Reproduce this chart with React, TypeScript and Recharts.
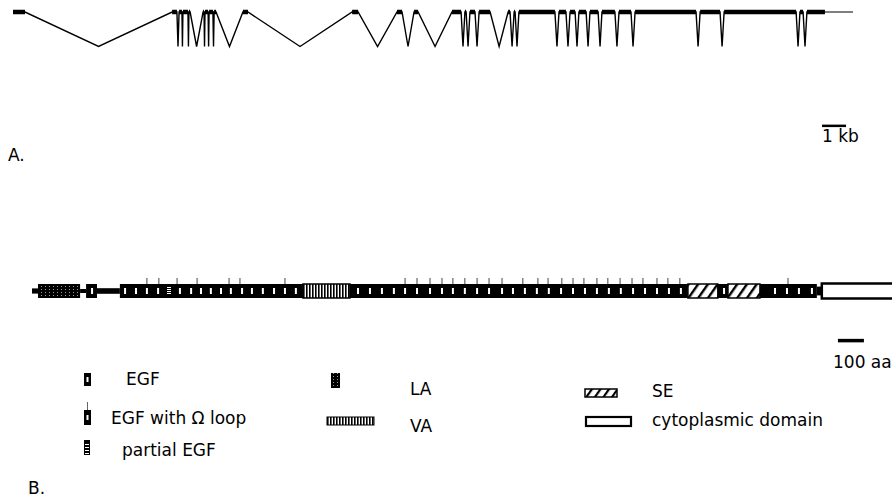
import React from 'react'
import {
  LineChart,
  Line,
  XAxis,
  YAxis,
  ReferenceLine,
  ComposedChart,
  ReferenceArea,
  Scatter,
} from 'recharts'

// A. gene structure, exon positions in kb
const exonStarts = [
  0, 6.63, 6.92, 7.08, 7.33, 7.92, 8.0, 8.17, 8.38, 9.58, 14.13, 16.0, 16.71, 18.29, 18.83, 19.04,
  19.42, 20.63, 20.88, 21.08, 22.75, 23.21, 23.58, 24.04, 24.54, 25.25, 25.92, 28.63, 29.63, 32.79, 33.08,
]
const exonEnds = [
  0.5, 6.83, 7.04, 7.29, 7.38, 7.96, 8.13, 8.33, 8.46, 9.79, 14.38, 16.21, 16.88, 18.67, 18.88, 19.25,
  19.88, 20.71, 20.92, 22.58, 23.04, 23.42, 23.88, 24.38, 25.08, 25.75, 28.46, 29.46, 32.63, 32.92, 33.83,
]
const utr3 = [33.83, 35.0]
const kbBar = [33.71, 34.71]

// B. protein domains, in aa
const nTerm = [0, 23]
const laRepeats = [[23, 185]]
const linkers = [[185, 208], [250, 338]]
const egfBlocks = [[208, 250], [338, 1042], [1223, 2523], [2638, 2677], [2800, 3019]]
const vaBlocks = [[1042, 1223]]
const seBlocks = [[2523, 2638], [2677, 2800]]
const tmSegment = [3019, 3038]
const cytoDomain = [3038, 3400]
const egfMarks = [
  231, 358, 400, 442, 485, 569, 612, 650, 688, 727, 765, 808, 846, 888, 931, 973, 1015,
  1254, 1300, 1346, 1392, 1435, 1481, 1531, 1577, 1619, 1665, 1712, 1758, 1808, 1850, 1896, 1942,
  1988, 2035, 2081, 2127, 2173, 2219, 2265, 2312, 2358, 2404, 2450, 2496, 2662, 2858, 2904, 2950, 3000,
]
const partialEgf = [527]
const omegaLoops = [
  442, 488, 558, 635, 758, 800, 973, 1435, 1481, 1531, 1577, 1619, 1665, 1712, 1758, 1808, 1888,
  1946, 1985, 2038, 2081, 2123, 2173, 2215, 2262, 2308, 2350, 2404, 2446, 2492, 2908,
]
const aaBar = [3100, 3200]

const FONT = '"DejaVu Sans", sans-serif'
const BAR = 0.35

const geneRows = exonStarts.flatMap((s, i) => {
  const rows: any[] = [
    { x: s, y: 0, e: 0 },
    { x: exonEnds[i], y: 0, e: 0 },
  ]
  if (i < exonStarts.length - 1) rows.push({ x: (exonEnds[i] + exonStarts[i + 1]) / 2, y: -1, e: null })
  return rows
})

const EgfMark = (props: any) => (
  <rect x={props.cx - 1} y={props.cy - 3} width={2} height={6} fill="#fff" />
)

const PartialMark = (props: any) => (
  <g fill="#fff">
    {[-4, -2, 0, 2].map((d) => (
      <rect key={d} x={props.cx - 2} y={props.cy + d} width={4} height={1} />
    ))}
  </g>
)

const OmegaTick = (props: any) => (
  <line x1={props.cx} x2={props.cx} y1={props.cy - 6} y2={props.cy} stroke="#444" strokeWidth={1} />
)

function Legend() {
  const txt = { fontFamily: FONT, fontSize: 17, fill: '#000' }
  return (
    <svg width={892} height={497} style={{ position: 'absolute', left: 0, top: 0, pointerEvents: 'none' }}>
      <defs>
        <pattern id="lgLa" width={4} height={3} patternUnits="userSpaceOnUse">
          <rect width={4} height={3} fill="#000" />
          <rect x={1} y={1} width={1} height={1} fill="#999" />
        </pattern>
        <pattern id="lgVa" width={3} height={4} patternUnits="userSpaceOnUse">
          <rect width={3} height={4} fill="#fff" />
          <rect width={1.6} height={4} fill="#000" />
        </pattern>
        <pattern id="lgSe" width={7} height={7} patternUnits="userSpaceOnUse" patternTransform="rotate(35)">
          <rect width={7} height={7} fill="#fff" />
          <rect width={2.2} height={7} fill="#000" />
        </pattern>
      </defs>
      <text x={8} y={161} {...txt}>A.</text>
      <text x={822} y={142} {...txt}>1 kb</text>
      <text x={833} y={368} {...txt}>100 aa</text>
      <text x={28} y={494} {...txt}>B.</text>

      <rect x={84} y={373} width={7} height={13} fill="#000" />
      <rect x={86.5} y={377} width={2} height={5} fill="#fff" />
      <text x={126} y={385} {...txt}>EGF</text>

      <line x1={87.5} x2={87.5} y1={402} y2={410} stroke="#666" strokeWidth={1} />
      <rect x={84} y={410} width={7} height={15} fill="#000" />
      <rect x={86.5} y={415} width={2} height={5} fill="#fff" />
      <text x={111} y={424} {...txt}>EGF with Ω loop</text>

      <rect x={84} y={440} width={6} height={15} fill="#000" />
      {[444, 447, 450, 453].map((y) => (
        <rect key={y} x={85} y={y} width={4} height={1} fill="#fff" />
      ))}
      <text x={122} y={456} {...txt}>partial EGF</text>

      <rect x={331} y={373} width={9} height={15} fill="url(#lgLa)" />
      <text x={410} y={395} {...txt}>LA</text>

      <rect x={327} y={417} width={47} height={8} fill="url(#lgVa)" stroke="#000" strokeWidth={1} />
      <text x={410} y={432} {...txt}>VA</text>

      <rect x={585} y={389} width={32} height={8} fill="url(#lgSe)" stroke="#000" strokeWidth={1.5} />
      <text x={652} y={397} {...txt}>SE</text>

      <rect x={586} y={417} width={45} height={9} fill="#fff" stroke="#000" strokeWidth={2.2} />
      <text x={652} y={426} {...txt}>cytoplasmic domain</text>
    </svg>
  )
}

export default function App() {
  return (
    <div style={{ position: 'absolute', left: 0, top: 0, width: 892, height: 497, background: '#fff' }}>
      <div style={{ position: 'absolute', left: 0, top: 0 }}>
        <LineChart width={892} height={160} data={geneRows} margin={{ top: 5.1, right: 15, bottom: 10, left: 13 }}>
          <XAxis type="number" dataKey="x" domain={[0, 36]} hide />
          <YAxis type="number" domain={[-4, 0.2]} hide />
          <Line
            type="linear"
            dataKey="y"
            stroke="#000"
            strokeWidth={1.4}
            dot={false}
            activeDot={false}
            isAnimationActive={false}
          />
          <Line
            type="linear"
            dataKey="e"
            stroke="#000"
            strokeWidth={4.5}
            dot={false}
            activeDot={false}
            connectNulls={false}
            isAnimationActive={false}
          />
          <ReferenceLine segment={[{ x: utr3[0], y: 0 }, { x: utr3[1], y: 0 }]} stroke="#000" strokeWidth={1} />
          <ReferenceLine segment={[{ x: kbBar[0], y: -3.3 }, { x: kbBar[1], y: -3.3 }]} stroke="#000" strokeWidth={2.5} />
        </LineChart>
      </div>

      <div style={{ position: 'absolute', left: 0, top: 261 }}>
        <ComposedChart width={892} height={100} margin={{ top: 10, right: 0, bottom: 10, left: 32 }}>
          <defs>
            <pattern id="laFill" width={4} height={3} patternUnits="userSpaceOnUse">
              <rect width={4} height={3} fill="#000" />
              <rect x={1} y={1} width={1} height={1} fill="#999" />
            </pattern>
            <pattern id="vaFill" width={3} height={4} patternUnits="userSpaceOnUse">
              <rect width={3} height={4} fill="#fff" />
              <rect width={1.6} height={4} fill="#000" />
            </pattern>
            <pattern id="seFill" width={8} height={8} patternUnits="userSpaceOnUse" patternTransform="rotate(35)">
              <rect width={8} height={8} fill="#fff" />
              <rect width={2.4} height={8} fill="#000" />
            </pattern>
          </defs>
          <XAxis type="number" dataKey="x" domain={[0, 3308]} hide allowDataOverflow />
          <YAxis type="number" dataKey="y" domain={[-3, 1]} hide allowDataOverflow />

          <ReferenceArea x1={nTerm[0]} x2={nTerm[1]} y1={-0.13} y2={0.13} fill="#000" fillOpacity={1} ifOverflow="hidden" />
          {linkers.map(([a, b], i) => (
            <ReferenceArea key={`lk${i}`} x1={a} x2={b} y1={i ? -0.14 : -0.1} y2={i ? 0.14 : 0.1} fill="#000" fillOpacity={1} ifOverflow="hidden" />
          ))}
          {laRepeats.map(([a, b], i) => (
            <ReferenceArea key={`la${i}`} x1={a} x2={b} y1={-BAR} y2={BAR} fill="url(#laFill)" fillOpacity={1} ifOverflow="hidden" />
          ))}
          {egfBlocks.map(([a, b], i) => (
            <ReferenceArea key={`egf${i}`} x1={a} x2={b} y1={-BAR} y2={BAR} fill="#000" fillOpacity={1} ifOverflow="hidden" />
          ))}
          {vaBlocks.map(([a, b], i) => (
            <ReferenceArea key={`va${i}`} x1={a} x2={b} y1={-BAR} y2={BAR} fill="url(#vaFill)" fillOpacity={1} stroke="#000" strokeWidth={1.5} ifOverflow="hidden" />
          ))}
          {seBlocks.map(([a, b], i) => (
            <ReferenceArea key={`se${i}`} x1={a} x2={b} y1={-BAR} y2={BAR} fill="url(#seFill)" fillOpacity={1} stroke="#000" strokeWidth={1.5} ifOverflow="hidden" />
          ))}
          <ReferenceArea x1={tmSegment[0]} x2={tmSegment[1]} y1={-0.22} y2={0.22} fill="#000" fillOpacity={1} ifOverflow="hidden" />
          <ReferenceArea x1={cytoDomain[0]} x2={cytoDomain[1]} y1={-0.38} y2={0.38} fill="#fff" fillOpacity={1} stroke="#000" strokeWidth={2.5} ifOverflow="hidden" />

          <Scatter data={egfMarks.map((x) => ({ x, y: 0 }))} shape={EgfMark} isAnimationActive={false} />
          <Scatter data={partialEgf.map((x) => ({ x, y: 0 }))} shape={PartialMark} isAnimationActive={false} />
          <Scatter data={omegaLoops.map((x) => ({ x, y: BAR }))} shape={OmegaTick} isAnimationActive={false} />

          <ReferenceLine segment={[{ x: aaBar[0], y: -2.48 }, { x: aaBar[1], y: -2.48 }]} stroke="#000" strokeWidth={3.5} />
        </ComposedChart>
      </div>

      <Legend />
    </div>
  )
}
